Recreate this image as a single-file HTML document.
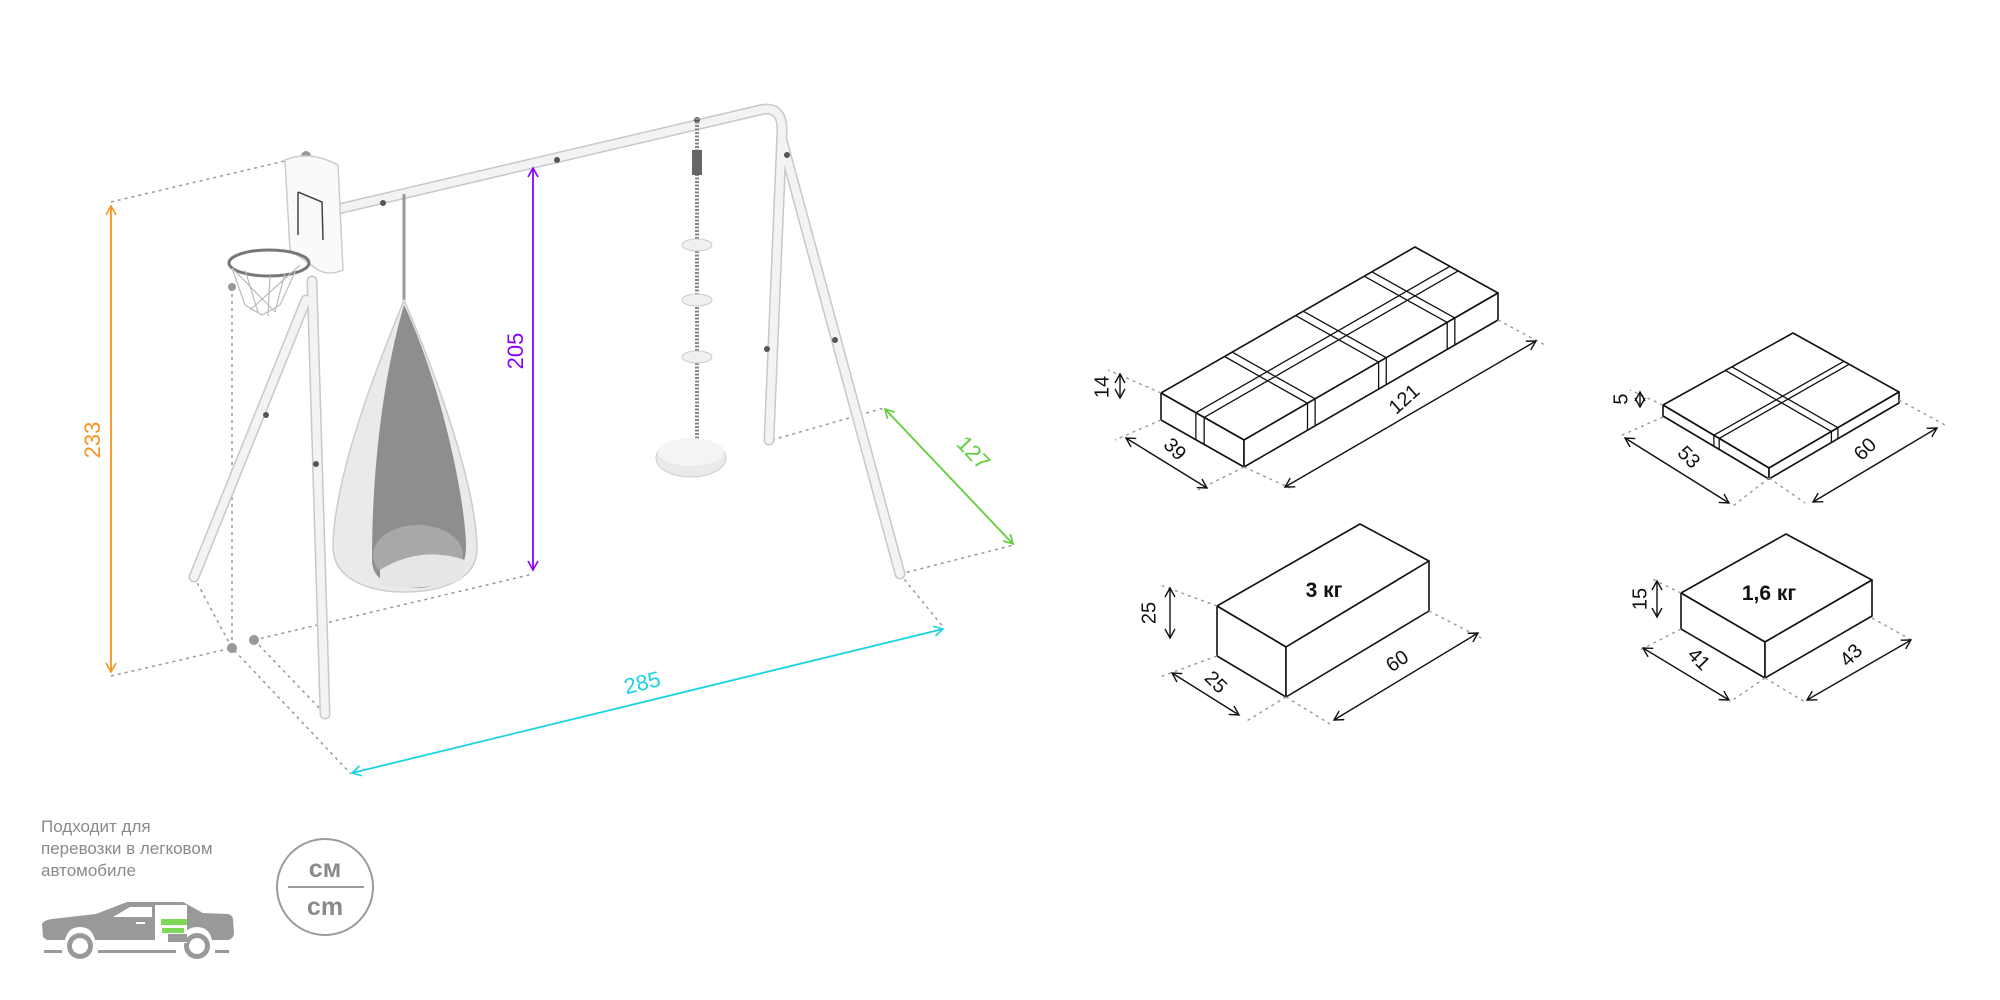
<!DOCTYPE html>
<html><head><meta charset="utf-8"><style>
html,body{margin:0;padding:0;background:#fff;}
body{width:2000px;height:1000px;overflow:hidden;position:relative;font-family:"Liberation Sans",sans-serif;}
svg{position:absolute;left:0;top:0;}
.t{position:absolute;left:41px;top:816px;font-size:17px;line-height:22px;color:#8a8a8a;}
</style></head><body>
<svg id="s" width="2000" height="1000" viewBox="0 0 2000 1000" xmlns="http://www.w3.org/2000/svg">
<defs>
<marker id="aO" markerWidth="12" markerHeight="12" refX="10" refY="6" orient="auto-start-reverse" markerUnits="userSpaceOnUse"><path d="M1,1 L10,6 L1,11" fill="none" stroke="#f7931e" stroke-width="1.6"/></marker>
<marker id="aP" markerWidth="12" markerHeight="12" refX="10" refY="6" orient="auto-start-reverse" markerUnits="userSpaceOnUse"><path d="M1,1 L10,6 L1,11" fill="none" stroke="#8a00ff" stroke-width="1.6"/></marker>
<marker id="aC" markerWidth="12" markerHeight="12" refX="10" refY="6" orient="auto-start-reverse" markerUnits="userSpaceOnUse"><path d="M1,1 L10,6 L1,11" fill="none" stroke="#1ad3e0" stroke-width="1.6"/></marker>
<marker id="aG" markerWidth="12" markerHeight="12" refX="10" refY="6" orient="auto-start-reverse" markerUnits="userSpaceOnUse"><path d="M1,1 L10,6 L1,11" fill="none" stroke="#5fcf3a" stroke-width="1.6"/></marker>
<marker id="aK" markerWidth="12" markerHeight="12" refX="10" refY="6" orient="auto-start-reverse" markerUnits="userSpaceOnUse"><path d="M1,1 L10,6 L1,11" fill="none" stroke="#111" stroke-width="1.4"/></marker>
</defs>
<g stroke="#999" stroke-width="1.5" stroke-dasharray="3 4" fill="none">
<path d="M111,202 L306,156"/><path d="M111,676 L232,648"/>
<path d="M232,287 L232,648"/><path d="M194,577 L232,648 L351,774"/>
<path d="M254,640 L533,574"/><path d="M254,640 L325,714"/>
<path d="M772,440 L884,408"/><path d="M900,574 L1014,545"/><path d="M900,574 L944,628"/>
</g>
<g fill="#999"><circle cx="306" cy="156" r="5"/><circle cx="232" cy="648" r="5"/><circle cx="254" cy="640" r="5"/><circle cx="232" cy="287" r="4"/></g>
<g fill="none" stroke-linecap="round">
<g stroke="#c8c8c8" stroke-width="11">
<path d="M306,300 L194,577"/><path d="M312,281 L325,714"/>
<path d="M334,210 L760,110 Q782,105 782,130 L769,440"/><path d="M782,140 L900,574"/>
</g>
<g stroke="#f3f3f3" stroke-width="8">
<path d="M306,300 L194,577"/><path d="M312,281 L325,714"/>
<path d="M334,210 L760,110 Q782,105 782,130 L769,440"/><path d="M782,140 L900,574"/>
</g>
</g>
<g fill="#555"><circle cx="266" cy="415" r="3"/><circle cx="316" cy="464" r="3"/><circle cx="767" cy="349" r="3"/><circle cx="835" cy="340" r="3"/><circle cx="697" cy="120" r="3"/><circle cx="557" cy="160" r="3"/><circle cx="383" cy="203" r="3"/><circle cx="787" cy="155" r="3"/></g>
<path d="M285,160 Q310,150 338,165 L343,270 Q330,276 318,270 L290,250 Z" fill="#fafafa" stroke="#ccc" stroke-width="1.5"/>
<path d="M298,192 L298,235 M298,192 L322,202 L323,240" stroke="#444" stroke-width="1.5" fill="none"/>
<ellipse cx="269" cy="263" rx="40" ry="13" fill="none" stroke="#777" stroke-width="3"/>
<path d="M232,268 L245,305 L262,315 L280,305 L295,272 M245,270 L258,312 M270,276 L268,316 M285,273 L275,312 M232,268 L275,312 M300,265 L250,310" stroke="#bbb" stroke-width="1.2" fill="none"/>
<line x1="404" y1="194" x2="404" y2="300" stroke="#999" stroke-width="3"/>
<path d="M404,300 C380,360 335,470 333,545 C332,580 370,592 405,592 C440,592 478,580 477,548 C476,480 430,360 404,300 Z" fill="#eaeaea" stroke="#ccc" stroke-width="1.5"/>
<path d="M404,305 C385,370 372,460 372,560 C372,585 400,588 420,588 C450,585 465,575 466,548 C466,500 440,380 404,305 Z" fill="#8e8e8e"/>
<ellipse cx="418" cy="555" rx="45" ry="30" fill="#a8a8a8"/>
<path d="M380,570 Q420,545 465,560 L462,580 Q420,592 380,585 Z" fill="#e6e6e6"/>
<line x1="697" y1="118" x2="697" y2="440" stroke="#888" stroke-width="4" stroke-dasharray="2 1.5"/>
<rect x="692" y="150" width="10" height="25" fill="#666"/>
<g fill="#f0f0f0" stroke="#ccc"><ellipse cx="697" cy="245" rx="15" ry="6"/><ellipse cx="697" cy="300" rx="15" ry="6"/><ellipse cx="697" cy="357" rx="15" ry="6"/></g>
<ellipse cx="691" cy="458" rx="35" ry="19" fill="#eaeaea" stroke="#ccc"/>
<ellipse cx="691" cy="452" rx="33" ry="14" fill="#f4f4f4"/>
<line x1="111" y1="206" x2="111" y2="672" stroke="#f7931e" stroke-width="1.8" marker-start="url(#aO)" marker-end="url(#aO)"/>
<text transform="translate(100,440) rotate(-90)" font-size="22" fill="#f7931e" text-anchor="middle">233</text>
<line x1="533" y1="168" x2="533" y2="570" stroke="#8a00ff" stroke-width="1.8" marker-start="url(#aP)" marker-end="url(#aP)"/>
<text transform="translate(523,351) rotate(-90)" font-size="22" fill="#8a00ff" text-anchor="middle">205</text>
<line x1="352" y1="773" x2="943" y2="629" stroke="#1ad3e0" stroke-width="1.8" marker-start="url(#aC)" marker-end="url(#aC)"/>
<text transform="translate(644,690) rotate(-13.7)" font-size="22" fill="#1ad3e0" text-anchor="middle">285</text>
<line x1="885" y1="409" x2="1013" y2="544" stroke="#5fcf3a" stroke-width="1.8" marker-start="url(#aG)" marker-end="url(#aG)"/>
<text transform="translate(968,458) rotate(46.5)" font-size="22" fill="#5fcf3a" text-anchor="middle">127</text>
<g id="boxes" fill="none" stroke="#111" stroke-width="1.6" stroke-linejoin="round"></g>
<g id="dims"></g>
<!-- car -->
<g fill="#999">
<path d="M43,937 L42,924 Q44,920 52,919 L96,914 L127,902 L183,902 L203,913 L228,914 Q233,915 233,920 L234,934 Q233,939 228,940 L212,940 Q209,927 197,927 Q185,927 182,940 L95,940 Q92,927 80,927 Q68,927 65,940 L47,940 Z"/>
<circle cx="80" cy="946" r="13"/><circle cx="197" cy="946" r="13"/>
<rect x="44" y="950" width="18" height="3"/><rect x="98" y="950" width="78" height="3"/><rect x="215" y="950" width="14" height="3"/>
</g>
<g fill="#fff">
<circle cx="80" cy="946" r="8"/><circle cx="197" cy="946" r="8"/>
<path d="M113,917 L130,907 L152,907 L152,917 Z"/>
<rect x="155" y="905" width="32" height="38"/>
</g>
<rect x="136" y="922" width="9" height="2" fill="#fff"/>
<rect x="161" y="919" width="26" height="6" fill="#7ed957"/><rect x="162" y="928" width="22" height="5" fill="#7ed957"/>
<rect x="168" y="934" width="19" height="8" fill="#999"/>
<circle cx="325" cy="887" r="48" fill="none" stroke="#9a9a9a" stroke-width="2"/>
<line x1="288" y1="887" x2="364" y2="887" stroke="#9a9a9a" stroke-width="2"/>
<text x="325" y="877" font-size="25" font-weight="bold" fill="#8a8a8a" text-anchor="middle">см</text>
<text x="325" y="915" font-size="25" font-weight="bold" fill="#8a8a8a" text-anchor="middle">cm</text>
</svg>
<div class="t">Подходит для<br>перевозки в легковом<br>автомобиле</div>
<script>
var NS="http://www.w3.org/2000/svg";
var G=document.getElementById('boxes'),D=document.getElementById('dims');
function el(p,tag,a){var e=document.createElementNS(NS,tag);for(var k in a)e.setAttribute(k,a[k]);p.appendChild(e);return e;}
function P(a){return a.map(function(p){return p[0]+','+p[1]}).join(' ');}
function lp(a,b,t){return [a[0]+(b[0]-a[0])*t,a[1]+(b[1]-a[1])*t];}
function dn(p,h){return [p[0],p[1]+h];}
function line(a,b,extra){var o={x1:a[0],y1:a[1],x2:b[0],y2:b[1]};for(var k in extra)o[k]=extra[k];el(G,'line',o);}
function box(L,B,R,F,h,ts,ss){
 el(G,'polygon',{points:P([L,B,R,F]),fill:'#fff'});
 el(G,'polygon',{points:P([L,F,dn(F,h),dn(L,h)]),fill:'#fff'});
 el(G,'polygon',{points:P([F,R,dn(R,h),dn(F,h)]),fill:'#fff'});
 ts.forEach(function(t){var a=lp(L,B,t),b=lp(F,R,t);line(a,b,{'stroke-width':1.3});line(b,dn(b,h),{'stroke-width':1.3});});
 ss.forEach(function(s){var a=lp(L,F,s),b=lp(B,R,s);line(a,b,{'stroke-width':1.3});line(a,dn(a,h),{'stroke-width':1.3});});
}
box([1161,393],[1415,247],[1498,293],[1244,440],27,[0.25,0.28,0.53,0.56,0.8,0.83],[0.42,0.52]);
box([1663,405],[1793,333],[1899,392],[1769,468],11,[0.48,0.53],[0.48,0.53]);
box([1217,606],[1360,524],[1429,561],[1286,647],50,[],[]);
box([1681,593],[1786,534],[1872,580],[1765,642],36,[],[]);
function dim(a,b,txt,tx,ty,rot){
 el(D,'line',{x1:a[0],y1:a[1],x2:b[0],y2:b[1],stroke:'#111','stroke-width':1.4,'marker-start':'url(#aK)','marker-end':'url(#aK)'});
 var t=el(D,'text',{transform:'translate('+tx+','+ty+') rotate('+rot+')','font-size':20,fill:'#111','text-anchor':'middle','dominant-baseline':'middle'});t.textContent=txt;
}
function dot(a,b){el(D,'line',{x1:a[0],y1:a[1],x2:b[0],y2:b[1],stroke:'#999','stroke-width':1.4,'stroke-dasharray':'3 4'});}
dot([1161,393],[1108,370]);dot([1161,420],[1115,440]);dot([1244,467],[1198,490]);dot([1244,467],[1290,488]);dot([1498,320],[1545,345]);
dim([1120,374],[1120,398],'14',1103,387,-90);
dim([1126,438],[1207,488],'39',1174,450,45);
dim([1285,487],[1536,341],'121',1405,400,-42);
dot([1663,405],[1630,390]);dot([1663,417],[1620,436]);dot([1769,478],[1733,506]);dot([1769,478],[1805,503]);dot([1899,400],[1945,425]);
dim([1640,392],[1640,407],'5',1622,399,-90);
dim([1625,438],[1729,503],'53',1688,458,45);
dim([1813,502],[1937,428],'60',1866,450,-45);
dot([1217,606],[1160,585]);dot([1217,656],[1160,677]);dot([1286,697],[1245,722]);dot([1286,697],[1330,724]);dot([1429,611],[1485,640]);
dim([1170,588],[1170,638],'25',1150,613,-90);
dim([1172,673],[1239,715],'25',1215,683,45);
dim([1334,720],[1478,633],'60',1398,662,-35);
var t1=el(D,'text',{x:1324,y:597,'font-size':21,'font-weight':'bold',fill:'#111','text-anchor':'middle'});t1.textContent='3 кг';
dot([1681,593],[1650,578]);dot([1681,629],[1640,650]);dot([1765,678],[1730,702]);dot([1765,678],[1805,702]);dot([1872,618],[1915,642]);
dim([1657,581],[1657,617],'15',1641,599,-90);
dim([1643,648],[1729,700],'41',1698,660,45);
dim([1807,700],[1911,640],'43',1852,656,-45);
var t2=el(D,'text',{x:1769,y:600,'font-size':21,'font-weight':'bold',fill:'#111','text-anchor':'middle'});t2.textContent='1,6 кг';
</script>
</body></html>
